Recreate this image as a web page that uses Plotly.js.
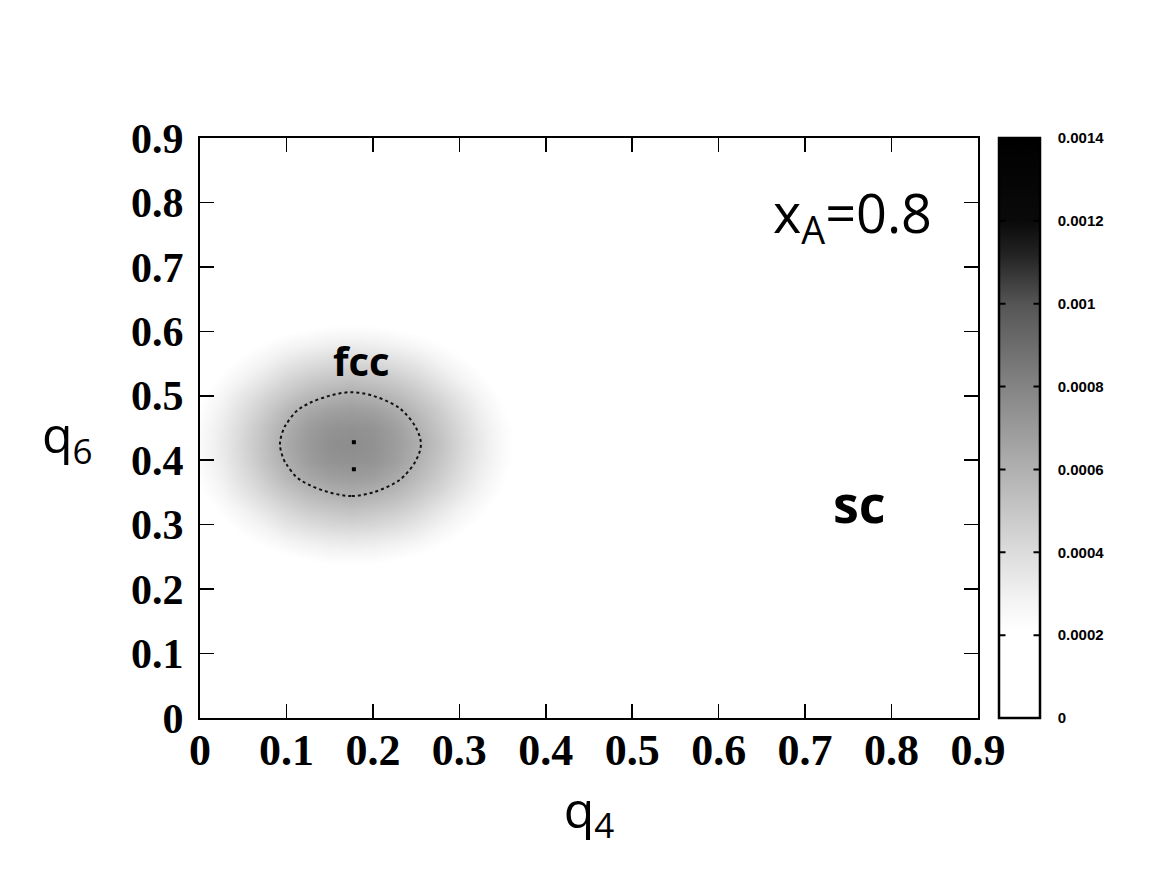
<!DOCTYPE html>
<html>
<head>
<meta charset="utf-8">
<script src="https://cdn.plot.ly/plotly-3.0.1.min.js"></script>
<style>html,body{margin:0;padding:0;background:#fff;}#chart{width:1154px;height:885px;}</style>
</head>
<body>
<div id="chart"></div>
<script>
// q4 grid (columns) and q6 grid (rows), values in units of 1e-4
var q4Grid = [0, 0.025, 0.05, 0.075, 0.1, 0.125, 0.15, 0.175, 0.2, 0.225, 0.25, 0.275, 0.3, 0.325, 0.35, 0.375];
var q6Grid = [0.225, 0.25, 0.275, 0.3, 0.325, 0.35, 0.375, 0.4, 0.425, 0.45, 0.475, 0.5, 0.525, 0.55, 0.575, 0.6, 0.625];
var densityE4 = [
  [0.6, 0.8, 1.0, 1.2, 1.4, 1.6, 1.7, 1.7, 1.7, 1.6, 1.4, 1.2, 1.0, 0.8, 0.6, 0.4],
  [0.8, 1.1, 1.4, 1.7, 2.0, 2.2, 2.4, 2.4, 2.4, 2.2, 2.0, 1.7, 1.4, 1.1, 0.8, 0.6],
  [1.1, 1.4, 1.9, 2.3, 2.7, 3.0, 3.2, 3.3, 3.2, 3.0, 2.7, 2.3, 1.9, 1.4, 1.1, 0.8],
  [1.4, 1.9, 2.4, 2.9, 3.5, 3.9, 4.2, 4.3, 4.2, 3.9, 3.5, 2.9, 2.4, 1.9, 1.4, 1.0],
  [1.7, 2.3, 2.9, 3.6, 4.3, 4.8, 5.1, 5.3, 5.1, 4.8, 4.3, 3.6, 2.9, 2.3, 1.7, 1.2],
  [2.0, 2.7, 3.5, 4.3, 5.0, 5.6, 6.0, 6.2, 6.0, 5.6, 5.0, 4.3, 3.5, 2.7, 2.0, 1.4],
  [2.2, 3.0, 3.9, 4.8, 5.7, 6.4, 6.8, 6.9, 6.8, 6.3, 5.6, 4.8, 3.9, 3.0, 2.2, 1.6],
  [2.4, 3.2, 4.2, 5.2, 6.1, 6.9, 7.3, 7.4, 7.3, 6.8, 6.0, 5.1, 4.2, 3.2, 2.4, 1.7],
  [2.4, 3.3, 4.3, 5.3, 6.3, 7.0, 7.5, 7.6, 7.4, 6.9, 6.2, 5.3, 4.3, 3.3, 2.4, 1.7],
  [2.4, 3.2, 4.2, 5.2, 6.1, 6.9, 7.3, 7.4, 7.3, 6.8, 6.0, 5.1, 4.2, 3.2, 2.4, 1.7],
  [2.2, 3.0, 3.9, 4.8, 5.7, 6.4, 6.8, 6.9, 6.8, 6.3, 5.6, 4.8, 3.9, 3.0, 2.2, 1.6],
  [2.0, 2.7, 3.5, 4.3, 5.0, 5.6, 6.0, 6.2, 6.0, 5.6, 5.0, 4.3, 3.5, 2.7, 2.0, 1.4],
  [1.7, 2.3, 2.9, 3.6, 4.3, 4.8, 5.1, 5.3, 5.1, 4.8, 4.3, 3.6, 2.9, 2.3, 1.7, 1.2],
  [1.4, 1.9, 2.4, 2.9, 3.5, 3.9, 4.2, 4.3, 4.2, 3.9, 3.5, 2.9, 2.4, 1.9, 1.4, 1.0],
  [1.1, 1.4, 1.9, 2.3, 2.7, 3.0, 3.2, 3.3, 3.2, 3.0, 2.7, 2.3, 1.9, 1.4, 1.1, 0.8],
  [0.8, 1.1, 1.4, 1.7, 2.0, 2.2, 2.4, 2.4, 2.4, 2.2, 2.0, 1.7, 1.4, 1.1, 0.8, 0.6],
  [0.6, 0.8, 1.0, 1.2, 1.4, 1.6, 1.7, 1.7, 1.7, 1.6, 1.4, 1.2, 1.0, 0.8, 0.6, 0.4]
];
var contourLevel = 6.0;
var spotQ4 = [0.178, 0.178];
var spotQ6 = [0.428, 0.386];
var cbMax = 14;
var cbTickVals = [0, 2, 4, 6, 8, 10, 12, 14];
var cbTickText = ['0', '0.0002', '0.0004', '0.0006', '0.0008', '0.001', '0.0012', '0.0014'];
var cbInnerMarks = [2, 4, 6, 8, 10, 12];
var axisTicks = [0, 0.1, 0.2, 0.3, 0.4, 0.5, 0.6, 0.7, 0.8, 0.9];
var axisTickText = ['0', '0.1', '0.2', '0.3', '0.4', '0.5', '0.6', '0.7', '0.8', '0.9'];

var grayScale = [
  [0, '#ffffff'], [0.15, '#ffffff'], [0.2, '#f4f4f4'], [0.286, '#dcdcdc'], [0.429, '#b0b0b0'],
  [0.571, '#848484'], [0.714, '#555555'], [0.80, '#222222'], [0.857, '#0a0a0a'], [1, '#000000']
];

var plotW = 778;
var cbX0 = 1.027, cbThick = 41;
var cbX1 = cbX0 + cbThick / plotW;
var markPx = 8;

var heat = {
  type: 'heatmap', x: q4Grid, y: q6Grid, z: densityE4,
  zmin: 0, zmax: cbMax, zsmooth: 'best', colorscale: grayScale,
  hoverinfo: 'skip',
  colorbar: {
    x: cbX0, xanchor: 'left', xpad: 0, y: 0.5, yanchor: 'middle', ypad: 0,
    len: 1, lenmode: 'fraction', thickness: cbThick,
    outlinecolor: '#000', outlinewidth: 2.5,
    ticks: 'outside', ticklen: 14, tickcolor: 'rgba(0,0,0,0)', tickwidth: 1,
    tickvals: cbTickVals, ticktext: cbTickText,
    tickfont: {family: 'Liberation Sans, Arial, sans-serif', size: 15, color: '#000', weight: 'bold'}
  }
};
var cont = {
  type: 'contour', x: q4Grid, y: q6Grid, z: densityE4,
  showscale: false, hoverinfo: 'skip',
  contours: {start: contourLevel, end: contourLevel, size: 1, coloring: 'none'},
  line: {color: '#111', width: 2, dash: 'dot', smoothing: 1}
};
var spots = {
  type: 'scatter', mode: 'markers', x: spotQ4, y: spotQ6,
  marker: {symbol: 'square', size: 4, color: '#000'}, hoverinfo: 'skip', showlegend: false
};

var serif = 'Liberation Serif, Times New Roman, serif';
var sansFont = 'Open Sans, Noto Sans, Liberation Sans, sans-serif';

var annotations = [
  {x: -0.17, y: 0.484, xref: 'paper', yref: 'paper', xanchor: 'center', yanchor: 'middle',
   text: 'q<sub>6</sub>', showarrow: false, font: {family: sansFont, size: 50, color: '#000'}},
  {x: 0.755, y: 0.78, xref: 'x', yref: 'y', xanchor: 'center', text: 'x<sub>A</sub>=0.8', showarrow: false,
   font: {family: sansFont, size: 54, color: '#000'}},
  {x: 0.763, y: 0.335, xref: 'x', yref: 'y', xanchor: 'center', text: '<b>sc</b>', showarrow: false,
   font: {family: sansFont, size: 52, color: '#000'}},
  {x: 0.187, y: 0.555, xref: 'x', yref: 'y', xanchor: 'center', text: '<b>fcc</b>', showarrow: false,
   font: {family: sansFont, size: 40, color: '#000'}}
];
// small inner tick marks on both sides of the colour bar
cbInnerMarks.forEach(function (v) {
  var yp = v / cbMax;
  annotations.push({x: cbX0, y: yp, xref: 'paper', yref: 'paper', text: ' ', font: {size: 1}, showarrow: true,
    ax: markPx, ay: 0, axref: 'pixel', ayref: 'pixel', arrowhead: 0, arrowwidth: 2, arrowcolor: '#000', standoff: 0, startstandoff: 0});
  annotations.push({x: cbX1, y: yp, xref: 'paper', yref: 'paper', text: ' ', font: {size: 1}, showarrow: true,
    ax: -markPx, ay: 0, axref: 'pixel', ayref: 'pixel', arrowhead: 0, arrowwidth: 2, arrowcolor: '#000', standoff: 0, startstandoff: 0});
});

var layout = {
  width: 1154, height: 885,
  margin: {l: 200, r: 176, t: 138, b: 167},
  paper_bgcolor: '#fff', plot_bgcolor: '#fff',
  showlegend: false,
  xaxis: {
    range: [0, 0.9], tickvals: axisTicks, ticktext: axisTickText,
    ticks: 'inside', ticklen: 14, tickwidth: 1.5, tickcolor: '#000',
    showline: true, linecolor: '#000', linewidth: 2, mirror: 'ticks',
    showgrid: false, zeroline: false, ticklabelstandoff: -8,
    tickfont: {family: serif, size: 44, color: '#000', weight: 'bold'},
    title: {text: 'q<sub>4</sub>', font: {family: sansFont, size: 50, color: '#000'}, standoff: 6}
  },
  yaxis: {
    range: [0, 0.9], tickvals: axisTicks, ticktext: axisTickText,
    ticks: 'inside', ticklen: 14, tickwidth: 1.5, tickcolor: '#000',
    showline: true, linecolor: '#000', linewidth: 2, mirror: 'ticks',
    showgrid: false, zeroline: false, ticklabelstandoff: 6,
    tickfont: {family: serif, size: 42, color: '#000', weight: 'bold'}
  },
  annotations: annotations
};

Plotly.newPlot('chart', [heat, cont, spots], layout, {displayModeBar: false, staticPlot: true});
</script>
</body>
</html>
